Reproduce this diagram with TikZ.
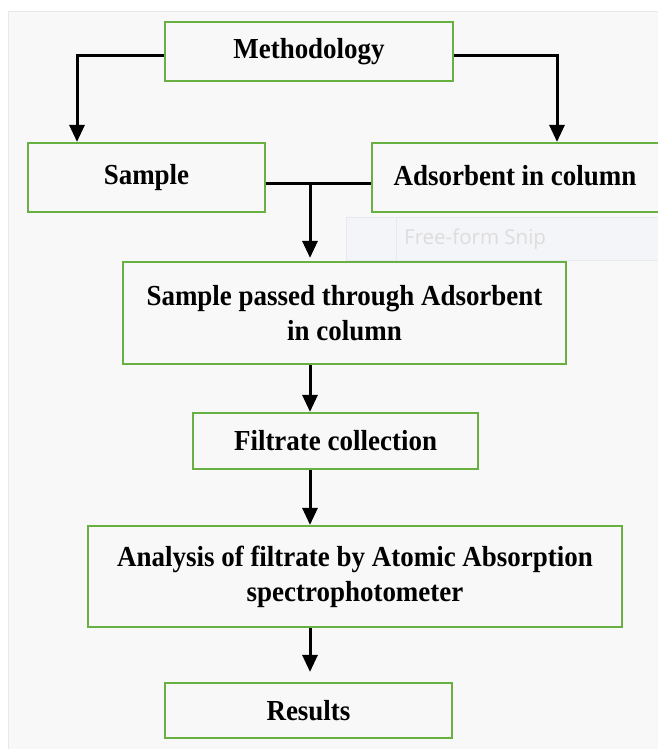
\documentclass[tikz,border=0pt]{standalone}
\usepackage{fontspec}
\setmainfont[FakeStretch=0.93]{Liberation Serif}
\newfontfamily\snipfont{Open Sans}
\usetikzlibrary{arrows.meta,calc}
\definecolor{boxgreen}{RGB}{104,176,66}
\definecolor{panel}{RGB}{248,248,248}
\definecolor{panelline}{RGB}{232,232,232}
\definecolor{snipfill}{RGB}{243,245,248}
\definecolor{snipline}{RGB}{230,234,239}
\definecolor{sniptext}{RGB}{222,220,220}
\tikzset{
  flowbox/.style={draw=boxgreen, line width=2.2pt, fill=panel, rectangle, align=center, inner sep=0pt,
    font=\fontsize{29}{35}\selectfont\bfseries},
  conn/.style={line width=3pt, black},
  arr/.style={conn, -{Triangle[length=17pt,width=15pt]}},
}
\begin{document}
\begin{tikzpicture}[x=1pt,y=-1pt]
\useasboundingbox (0,0) rectangle (657,749);
\fill[white] (0,0) rectangle (657,749);
\filldraw[fill=panel, draw=panelline, line width=1pt] (8,12) rectangle (670,760);
% screenshot overlay
\filldraw[fill=snipfill, draw=snipline, line width=1pt] (346,217) rectangle (670,260);
\draw[snipline, line width=1pt] (396,217) -- (396,260);
\node[anchor=west, text=sniptext, font=\snipfont\fontsize{20.5}{24}\selectfont, inner sep=0pt] (snip) at (404,239) {Free-form Snip};
% boxes
\node[flowbox, minimum width=288pt, minimum height=59pt] (meth) at (309,51.5) {Methodology};
\node[flowbox, minimum width=237pt, minimum height=69pt] (sample) at (146.5,177.5) {\raisebox{4pt}{Sample}};
\node[flowbox, minimum width=290pt, minimum height=69pt] (ads) at (517,177.5) {\raisebox{4pt}{Adsorbent in column}\hspace*{4pt}};
\node[flowbox, minimum width=443pt, minimum height=102pt] (pass) at (344.5,313) {Sample passed through Adsorbent\\in column};
\node[flowbox, minimum width=285pt, minimum height=56pt] (filt) at (335.5,441) {Filtrate collection};
\node[flowbox, minimum width=534pt, minimum height=101pt] (anal) at (355,576.5) {Analysis of filtrate by Atomic Absorption\\spectrophotometer};
\node[flowbox, minimum width=287pt, minimum height=55pt] (res) at (308.5,710.5) {Results};
% connectors
\draw[arr] ([yshift=-4.5pt]meth.west) -| ([xshift=-69.5pt]sample.north);
\draw[arr] ([yshift=-4.5pt]meth.east) -| ([xshift=40pt]ads.north);
\draw[conn] ([yshift=-5.5pt]sample.east) -- ([yshift=-5.5pt]ads.west);
\coordinate (j) at (310,183);
\draw[arr, shorten >=3pt] (j) -- (pass.north -| j);
\draw[arr] (pass.south -| j) -- (filt.north -| j);
\draw[arr] (filt.south -| j) -- (anal.north -| j);
\draw[arr, shorten >=10pt] (anal.south -| j) -- (res.north -| j);
\end{tikzpicture}
\end{document}
